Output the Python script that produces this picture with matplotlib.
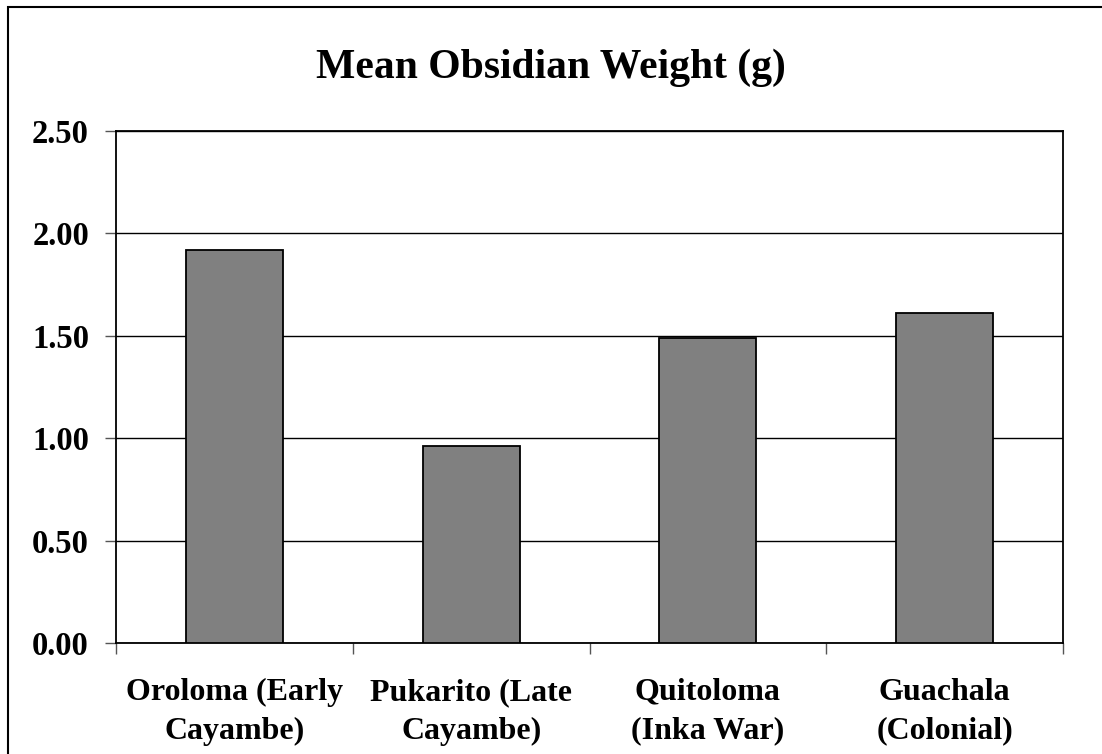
import matplotlib.pyplot as plt
from matplotlib.patches import Rectangle
import numpy as np

# data
sites = ['Oroloma (Early\nCayambe)', 'Pukarito (Late\nCayambe)',
         'Quitoloma\n(Inka War)', 'Guachala\n(Colonial)']
weights = [1.92, 0.96, 1.49, 1.61]
yticks = [0.0, 0.5, 1.0, 1.5, 2.0, 2.5]

plt.rcParams['font.family'] = 'Liberation Serif'
plt.rcParams['font.weight'] = 'bold'

fig = plt.figure(figsize=(11.02, 7.54), dpi=100)
ax = fig.add_axes([0.1053, 0.1472, 0.8593, 0.6790])

# outer chart frame
fig.patches.append(Rectangle((8 / 1102, -0.05), 1.2, 1 - 7 / 754 + 0.05,
                             transform=fig.transFigure, fill=False,
                             edgecolor='black', linewidth=1.5))

x = np.arange(len(sites))
ax.bar(x, weights, width=0.41, color='#808080', edgecolor='black', linewidth=1.3, zorder=3)

ax.set_xlim(-0.5, len(sites) - 0.5)
ax.set_ylim(0, 2.5)
ax.set_yticks(yticks)
ax.set_yticklabels([f'{v:.2f}' for v in yticks], fontsize=23.5, fontweight='bold')
ax.yaxis.grid(True, color='black', linewidth=1.0, zorder=0)

# category ticks at boundaries, labels at centres
ax.set_xticks(np.arange(len(sites) + 1) - 0.5)
ax.set_xticklabels([])
ax.set_xticks(x, minor=True)
ax.set_xticklabels(sites, minor=True, fontsize=23, fontweight='bold', linespacing=1.45)
ax.tick_params(axis='x', which='minor', length=0, pad=25)
ax.tick_params(axis='x', which='major', length=8, width=1, color='#555555')
ax.tick_params(axis='y', length=8, width=1, color='#555555', pad=11.5)

for s in ax.spines.values():
    s.set_linewidth(1.3)
    s.set_color('black')

fig.text(0.5, 1 - 68 / 754, 'Mean Obsidian Weight (g)', fontsize=30,
         fontweight='bold', ha='center', va='center')

fig.savefig('out.png', dpi=100)
